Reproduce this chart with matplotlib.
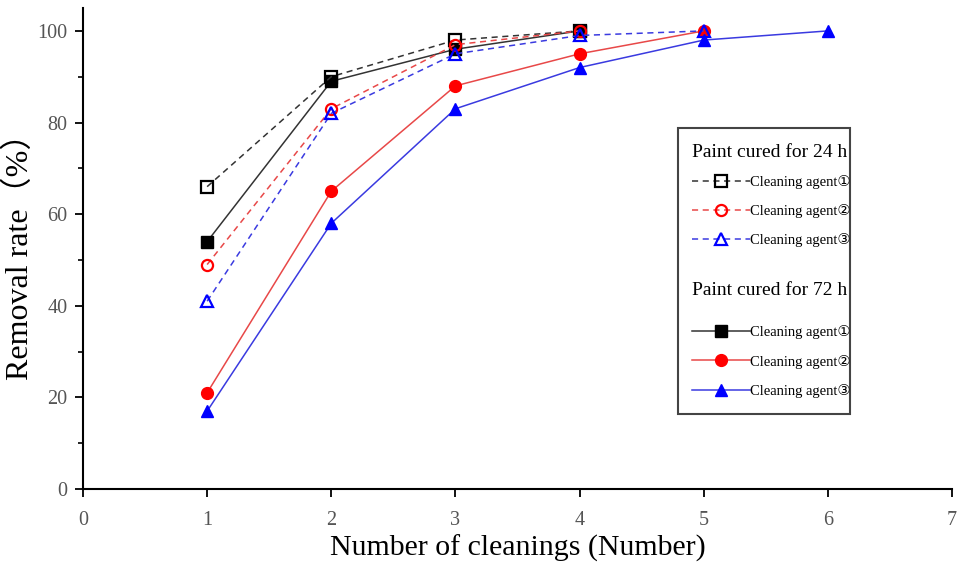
import matplotlib
matplotlib.use("Agg")
import matplotlib.pyplot as plt
from matplotlib.patches import Rectangle
from matplotlib.ticker import MultipleLocator

plt.rcParams['font.family'] = ['Liberation Serif', 'DejaVu Sans']

# data
x24_a1 = [1, 2, 3, 4]
y24_a1 = [66, 90, 98, 100]
x24_a2 = [1, 2, 3, 4]
y24_a2 = [49, 83, 97, 100]
x24_a3 = [1, 2, 3, 4, 5]
y24_a3 = [41, 82, 95, 99, 100]
x72_a1 = [1, 2, 3, 4]
y72_a1 = [54, 89, 96, 100]
x72_a2 = [1, 2, 3, 4, 5]
y72_a2 = [21, 65, 88, 95, 100]
x72_a3 = [1, 2, 3, 4, 5, 6]
y72_a3 = [17, 58, 83, 92, 98, 100]

agent_labels = ['Cleaning agent①', 'Cleaning agent②', 'Cleaning agent③']
group_titles = ['Paint cured for 24 h', 'Paint cured for 72 h']
xlabel = 'Number of cleanings (Number)'
ylabel = 'Removal rate（%）'

line_cols = ['#333333', '#e84848', '#3a3ae0']
mk_cols = ['black', 'red', 'blue']
markers = ['s', 'o', '^']

fig = plt.figure(figsize=(9.57, 5.7), dpi=100)
ax = fig.add_axes([83/957, 1-489/570, (952-83)/957, (489-8)/570])

h72 = []
for (x, y), c, mc, m in zip([(x72_a1, y72_a1), (x72_a2, y72_a2), (x72_a3, y72_a3)],
                            line_cols, mk_cols, markers):
    l, = ax.plot(x, y, linestyle='-', color=c, lw=1.1, marker=m, ms=8.5,
                 markerfacecolor=mc, markeredgecolor=mc, zorder=3)
    h72.append(l)
h24 = []
for (x, y), c, mc, m in zip([(x24_a1, y24_a1), (x24_a2, y24_a2), (x24_a3, y24_a3)],
                            line_cols, mk_cols, markers):
    l, = ax.plot(x, y, linestyle=(0, (4, 3)), color=c, lw=1.1, marker=m, ms=8,
                 markerfacecolor='none', markeredgecolor=mc, markeredgewidth=1.6, zorder=4)
    h24.append(l)

ax.set_xlim(0, 7)
ax.set_ylim(0, 105)
ax.set_xticks(range(0, 8))
ax.set_yticks(range(0, 101, 20))
ax.yaxis.set_minor_locator(MultipleLocator(10))
for s in ['top', 'right']:
    ax.spines[s].set_visible(False)
for s in ['left', 'bottom']:
    ax.spines[s].set_linewidth(1.5)
ax.tick_params(axis='both', which='major', direction='out', length=6, width=1.3,
               labelsize=14.5, labelcolor='#555555')
ax.tick_params(axis='x', which='major', pad=10)
ax.tick_params(axis='y', which='major', pad=5)
ax.tick_params(axis='y', which='minor', direction='out', length=3.5, width=1.2)
ax.set_xlabel(xlabel, fontsize=21.5, labelpad=3)
ax.set_ylabel(ylabel, fontsize=23, family=['Liberation Serif', 'Noto Sans CJK SC'], labelpad=2)

# legend frame
fx0, fx1 = (678-83)/869, (850-83)/869
fy0, fy1 = (489-414)/481, (489-128)/481
ax.add_patch(Rectangle((fx0, fy0), fx1-fx0, fy1-fy0, transform=ax.transAxes,
                       fill=False, edgecolor='#444444', lw=1.5, zorder=5))

common = dict(loc='upper left', frameon=False, fontsize=10.5, title_fontsize=14,
              handlelength=4.0, handletextpad=0.0, labelspacing=1.05,
              borderpad=0.45, alignment='left')
leg1 = ax.legend(h24, agent_labels, title=group_titles[0],
                 bbox_to_anchor=(fx0, (489-130)/481), **common)
leg1._legend_box.sep = 10
ax.add_artist(leg1)
leg2 = ax.legend(h72, agent_labels, title=group_titles[1],
                 bbox_to_anchor=(fx0, (489-268)/481), **common)
leg2._legend_box.sep = 19

fig.savefig('out.png', dpi=100)
